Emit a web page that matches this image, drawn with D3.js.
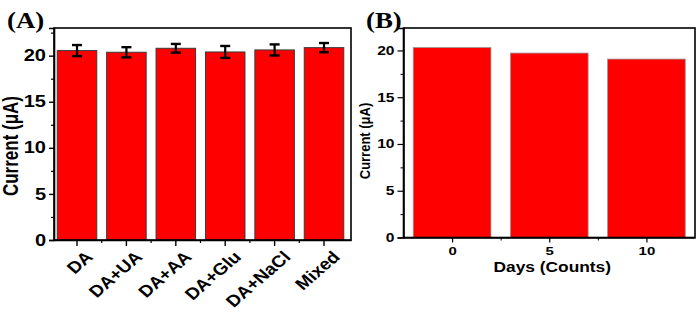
<!DOCTYPE html>
<html><head><meta charset="utf-8">
<script src="https://cdn.jsdelivr.net/npm/d3@7"></script>
<style>body{margin:0;background:#fff}svg{display:block}text{font-family:Arial,"Liberation Sans",sans-serif;font-weight:bold}</style>
</head><body><svg id="c" width="699" height="317"></svg>
<script>
// Panel A data
const categoriesA = ["DA","DA+UA","DA+AA","DA+Glu","DA+NaCl","Mixed"];
const currentA = [20.55, 20.37, 20.8, 20.4, 20.62, 20.87];
const errorA = [0.6, 0.55, 0.47, 0.65, 0.6, 0.5];
const yTicksA = [0,5,10,15,20];
// Panel B data
const daysB = [0,5,10];
const currentB = [20.32, 19.72, 19.08];
const yTicksB = [0,5,10,15,20];
const xTicksB = [0,5,10];

const svg = d3.select("#c");
const SX = 1.3; // horizontal stretch of the reference glyphs

function stretchText(sel, sx){
  sel.each(function(){
    const t = d3.select(this);
    const x = +t.attr("x") || 0;
    t.attr("x", x/sx).attr("transform", `scale(${sx},1)`);
  });
}

// ---------- Panel A ----------
const A = {l:54, r:351, t:28, b:240};
const xA = d3.scaleBand().domain(categoriesA).range([A.l, A.r]).paddingInner(0.2).paddingOuter(0.106).align(0.31);
const yA = d3.scaleLinear().domain([0,23]).range([A.b, A.t]);
const gA = svg.append("g");

gA.selectAll("rect.bar").data(categoriesA).join("rect")
  .attr("x", d=>xA(d)).attr("width", xA.bandwidth())
  .attr("y", (d,i)=>yA(currentA[i])).attr("height",(d,i)=>yA(0)-yA(currentA[i]))
  .attr("fill","#ff0000").attr("stroke","#3a3a3a").attr("stroke-width",1);

// error bars
const eb = gA.selectAll("g.eb").data(categoriesA).join("g");
eb.append("line").attr("x1",d=>xA(d)+xA.bandwidth()/2).attr("x2",d=>xA(d)+xA.bandwidth()/2)
  .attr("y1",(d,i)=>yA(currentA[i]+errorA[i])).attr("y2",(d,i)=>yA(currentA[i]-errorA[i]))
  .attr("stroke","#000").attr("stroke-width",2.2);
[1,-1].forEach(s=>{
  eb.append("line").attr("x1",d=>xA(d)+xA.bandwidth()/2-5).attr("x2",d=>xA(d)+xA.bandwidth()/2+5)
    .attr("y1",(d,i)=>yA(currentA[i]+s*errorA[i])).attr("y2",(d,i)=>yA(currentA[i]+s*errorA[i]))
    .attr("stroke","#000").attr("stroke-width",2.4);
});

// frame
gA.append("rect").attr("x",A.l).attr("y",A.t).attr("width",A.r-A.l).attr("height",A.b-A.t)
  .attr("fill","none").attr("stroke","#000").attr("stroke-width",1.6);

// y axis A
const yAxA = gA.append("g").attr("transform",`translate(${A.l},0)`)
  .call(d3.axisLeft(yA).tickValues(yTicksA).tickSize(5).tickPadding(3).tickFormat(d3.format("d")));
yAxA.select(".domain").attr("stroke-width",1.6);
yAxA.selectAll(".tick line").attr("stroke-width",1.4);
yAxA.selectAll("text").attr("font-size",16).attr("fill","#000").call(stretchText, 1.25);
gA.append("g").attr("transform",`translate(${A.l},0)`)
  .call(d3.axisLeft(yA).tickValues([2.5,7.5,12.5,17.5,22.5]).tickSize(3).tickFormat(""))
  .call(g=>g.select(".domain").remove()).selectAll("line").attr("stroke-width",1.2);

// x axis A
const xAxA = gA.append("g").attr("transform",`translate(0,${A.b})`)
  .call(d3.axisBottom(xA).tickSize(6).tickSizeOuter(0));
xAxA.select(".domain").attr("stroke-width",1.6);
xAxA.selectAll(".tick line").attr("stroke-width",1.4);
xAxA.selectAll("text").attr("font-size",16.5).attr("fill","#000")
  .attr("text-anchor","end").attr("y",0).attr("dy",0)
  .attr("transform",`translate(17,18) scale(1.15,1) rotate(-45)`);
// minor x ticks at boundaries
const bounds = categoriesA.slice(1).map(d=>xA(d)-xA.step()*xA.paddingInner()/2);
gA.selectAll("line.mx").data(bounds).join("line")
  .attr("x1",d=>d).attr("x2",d=>d).attr("y1",A.b).attr("y2",A.b+3)
  .attr("stroke","#000").attr("stroke-width",1.2);

gA.append("text").attr("transform",`translate(18,146) rotate(-90) scale(1,1.25)`)
  .attr("text-anchor","middle").attr("font-size",17).text("Current (μA)");
gA.append("text").attr("transform","translate(7,28) scale(1.12,1)").attr("font-size",24)
  .style("font-family","'Liberation Serif','Times New Roman',serif").text("(A)");

// ---------- Panel B ----------
const B = {l:403.5, r:695, t:28, b:237.5};
const xB = d3.scaleLinear().domain([-2.5,12.5]).range([B.l,B.r]);
const yB = d3.scaleLinear().domain([0,22.4]).range([B.b,B.t]);
const gB = svg.append("g");
const barW = 4;
gB.selectAll("rect.bar").data(daysB).join("rect")
  .attr("x",d=>xB(d-barW/2)).attr("width",d=>xB(barW)-xB(0))
  .attr("y",(d,i)=>yB(currentB[i])).attr("height",(d,i)=>yB(0)-yB(currentB[i]))
  .attr("fill","#ff0000").attr("stroke","#999").attr("stroke-width",0.8);

gB.append("rect").attr("x",B.l).attr("y",B.t).attr("width",B.r-B.l).attr("height",B.b-B.t)
  .attr("fill","none").attr("stroke","#000").attr("stroke-width",1.6);

const yAxB = gB.append("g").attr("transform",`translate(${B.l},0)`)
  .call(d3.axisLeft(yB).tickValues(yTicksB).tickSize(6).tickPadding(3).tickFormat(d3.format("d")));
yAxB.select(".domain").attr("stroke-width",1.6);
yAxB.selectAll(".tick line").attr("stroke-width",1.2);
yAxB.selectAll("text").attr("font-size",12).attr("fill","#000").call(stretchText, SX);
gB.append("g").attr("transform",`translate(${B.l},0)`)
  .call(d3.axisLeft(yB).tickValues([2.5,7.5,12.5,17.5]).tickSize(3).tickFormat(""))
  .call(g=>g.select(".domain").remove()).selectAll("line").attr("stroke-width",1);

const xAxB = gB.append("g").attr("transform",`translate(0,${B.b})`)
  .call(d3.axisBottom(xB).tickValues(xTicksB).tickSize(5).tickSizeOuter(0).tickPadding(4).tickFormat(d3.format("d")));
xAxB.select(".domain").attr("stroke-width",1.6);
xAxB.selectAll(".tick line").attr("stroke-width",1.2);
xAxB.selectAll("text").attr("font-size",11.5).attr("fill","#000").call(stretchText, SX);
gB.append("g").attr("transform",`translate(0,${B.b})`)
  .call(d3.axisBottom(xB).tickValues([2.5,7.5]).tickSize(3).tickFormat(""))
  .call(g=>g.select(".domain").remove()).selectAll("line").attr("stroke-width",1);

gB.append("text").attr("transform",`translate(${(B.l+B.r)/2+3},272) scale(1.12,1)`).attr("text-anchor","middle")
  .attr("font-size",15.5).text("Days (Counts)");
gB.append("text").attr("transform",`translate(370,141) rotate(-90) scale(1,1.15)`)
  .attr("text-anchor","middle").attr("font-size",13).text("Current (μA)");
gB.append("text").attr("transform","translate(366,28) scale(1.12,1)").attr("font-size",24)
  .style("font-family","'Liberation Serif','Times New Roman',serif").text("(B)");
</script></body></html>
